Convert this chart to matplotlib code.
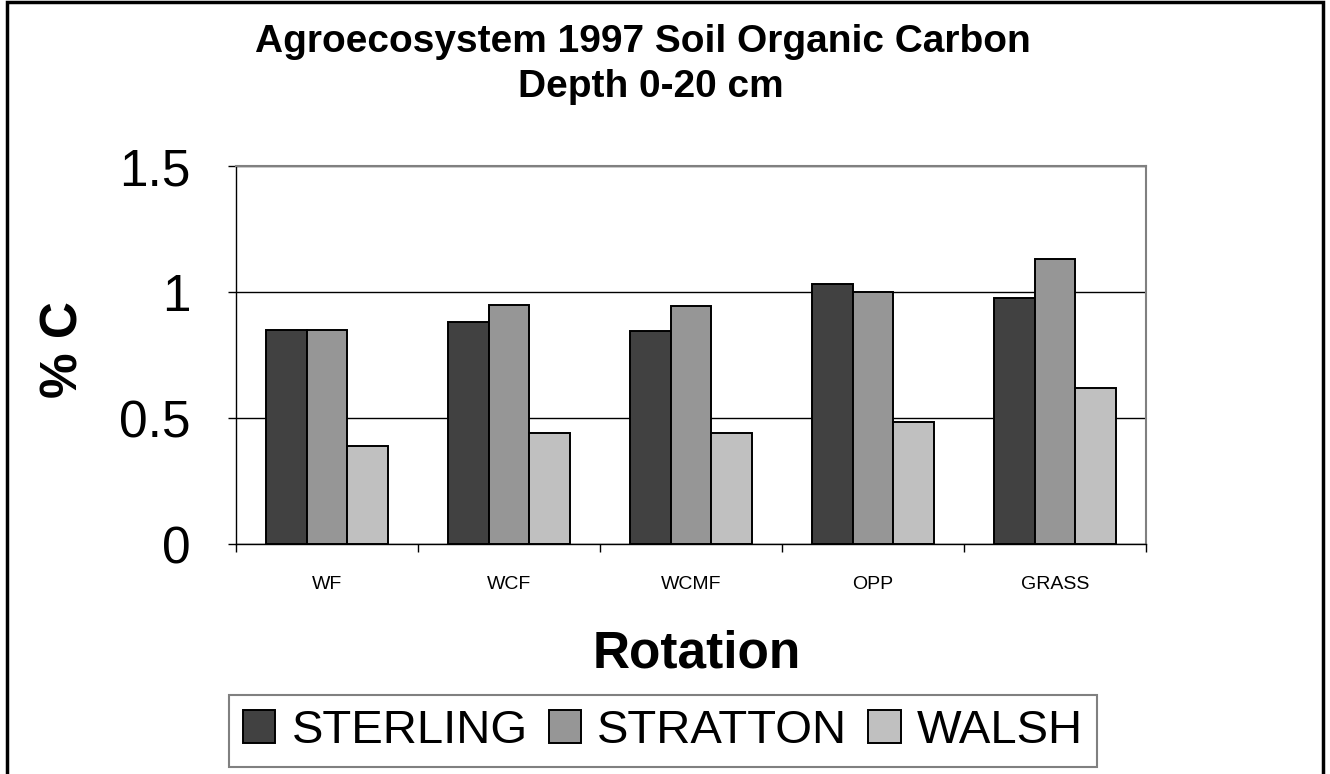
import numpy as np
import matplotlib
matplotlib.use('Agg')
import matplotlib.pyplot as plt
from matplotlib.patches import Rectangle

plt.rcParams['font.family'] = ['Liberation Sans', 'DejaVu Sans']

rotations = ['WF', 'WCF', 'WCMF', 'OPP', 'GRASS']
sites = ['STERLING', 'STRATTON', 'WALSH']
sterling = [0.85, 0.88, 0.845, 1.03, 0.975]
stratton = [0.85, 0.95, 0.945, 1.00, 1.13]
walsh = [0.39, 0.44, 0.44, 0.485, 0.62]
colors = ['#414141', '#969696', '#c0c0c0']

W, H = 1330, 774
fig = plt.figure(figsize=(W / 100, H / 100), dpi=100)
ax = fig.add_axes([236 / W, 1 - 544 / H, (1146 - 236) / W, (544 - 166) / H])

x = np.arange(len(rotations))
bw = 0.225
for i, (vals, name) in enumerate(zip([sterling, stratton, walsh], sites)):
    ax.bar(x + (i - 1) * bw, vals, bw, color=colors[i], edgecolor='black',
           linewidth=1.4, label=name, zorder=3)

ax.set_xlim(-0.5, len(rotations) - 0.5)
ax.set_ylim(0, 1.5)
ax.set_yticks([0, 0.5, 1, 1.5])
ax.set_yticklabels(['0', '0.5', '1', '1.5'])
ax.set_xticks(x)
ax.set_xticklabels(rotations)
ax.set_xticks(np.arange(-0.5, len(rotations)), minor=True)
ax.tick_params(axis='x', which='major', length=0, labelsize=14, pad=23)
ax.tick_params(axis='x', which='minor', length=6, width=1, direction='out')
ax.tick_params(axis='y', length=6, width=1, direction='out', labelsize=37, pad=27)

ax.yaxis.grid(True, color='black', linewidth=1, zorder=0)
ax.set_axisbelow(True)
for s in ['top', 'right']:
    ax.spines[s].set_color('#808080')
    ax.spines[s].set_linewidth(1.5)
for s in ['left', 'bottom']:
    ax.spines[s].set_color('black')
    ax.spines[s].set_linewidth(1)

fig.text(643 / W, 1 - 52 / H, 'Agroecosystem 1997 Soil Organic Carbon',
         ha='center', va='baseline', fontsize=28, fontweight='bold')
fig.text(651 / W, 1 - 97 / H, 'Depth 0-20 cm',
         ha='center', va='baseline', fontsize=28, fontweight='bold')
fig.text(64 / W, 1 - 350 / H, '% C', rotation=90, ha='center', va='center',
         fontsize=37, fontweight='bold')
fig.text(697 / W, 1 - 654 / H, 'Rotation', ha='center', va='center',
         fontsize=37, fontweight='bold')

leg = fig.legend(loc='center', bbox_to_anchor=(663 / W, 1 - 731 / H), ncol=3,
                 fontsize=34, handlelength=0.68, handleheight=0.68,
                 handletextpad=0.34, columnspacing=0.45, borderpad=0.3,
                 borderaxespad=0, fancybox=False, framealpha=1)
leg.get_frame().set_edgecolor('#808080')
leg.get_frame().set_linewidth(1.5)

fig.patches.append(Rectangle((7 / W, -0.02), (1323 - 7) / W, 1.02 - 2 / H,
                             transform=fig.transFigure, fill=False,
                             edgecolor='black', linewidth=2.5))

fig.savefig('out.png', dpi=100)
